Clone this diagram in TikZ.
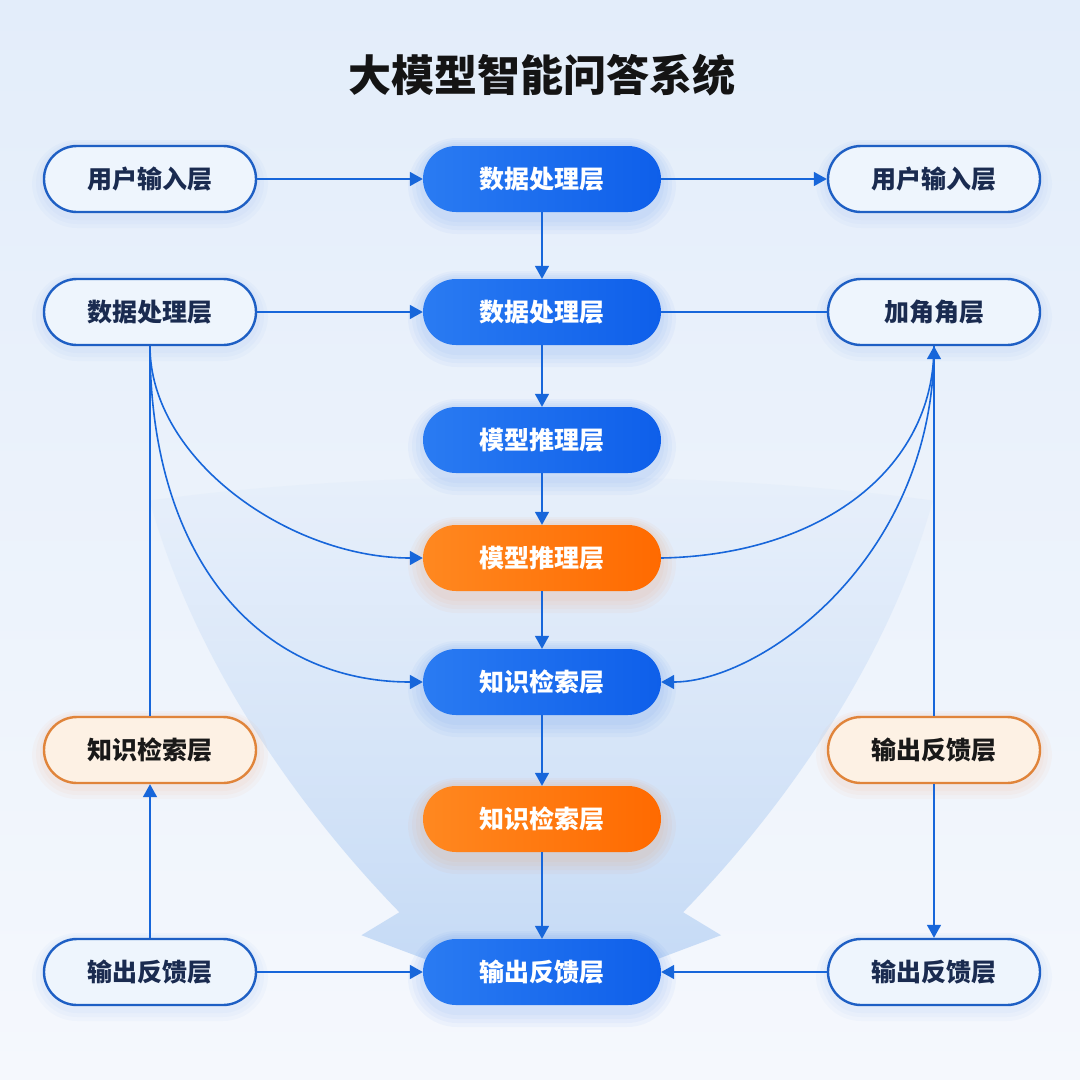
\documentclass[tikz,border=0pt]{standalone}
\usepackage{fontspec}
\setmainfont{Noto Sans CJK SC}
\usetikzlibrary{arrows.meta,fadings}
\definecolor{bgtop}{HTML}{E3EDFA}
\definecolor{bgbot}{HTML}{F5F8FD}
\definecolor{funnel}{HTML}{C6DBF6}
\definecolor{blueA}{HTML}{2A7BF2}
\definecolor{blueB}{HTML}{0E5FEA}
\definecolor{orA}{HTML}{FF8820}
\definecolor{orB}{HTML}{FF6A00}
\definecolor{edgeblue}{HTML}{1E5FC4}
\definecolor{navy}{HTML}{1A2B50}
\definecolor{ofill}{HTML}{EEF5FD}
\definecolor{oredge}{HTML}{E0843A}
\definecolor{orfill}{HTML}{FDF1E4}
\definecolor{linkc}{HTML}{1766DA}
\tikzfading[name=funfade, top color=transparent!92, bottom color=transparent!0]
\begin{document}
\begin{tikzpicture}[x=1pt,y=-1pt,
  base/.style={rounded corners=33pt, minimum height=66pt, inner sep=0pt,
    font=\bfseries\fontsize{25}{25}\selectfont},
  solidblue/.style={base, minimum width=238pt, left color=blueA, right color=blueB, text=white},
  solidorange/.style={base, minimum width=238pt, left color=orA, right color=orB, text=white},
  outblue/.style={base, minimum width=212pt, draw=edgeblue, line width=2.4pt, fill=ofill, text=navy},
  outorange/.style={base, minimum width=212pt, draw=oredge, line width=2.4pt, fill=orfill, text=black!90},
  linkline/.style={draw=linkc, line width=1.6pt},
  arr/.style={linkline, -{Triangle[length=13pt,width=14pt]}},
]
\useasboundingbox (0,0) rectangle (1080,1080);
\shade[top color=bgtop, bottom color=bgbot] (0,0) rectangle (1080,1080);
% funnel backdrop
\fill[funnel, path fading=funfade]
  (150,500) .. controls (380,468) and (700,468) .. (934,500)
  .. controls (884,680) and (764,830) .. (684,912) -- (722,935) -- (650,962)
  -- (434,962) -- (362,935) -- (400,912)
  .. controls (320,830) and (200,680) .. (150,500) -- cycle;

\node[font=\bfseries\fontsize{43}{43}\selectfont, text=black!92] (title) at (542,75) {大模型智能问答系统};

% soft glows under solid nodes
\foreach \yy/\gc in {179/blueB,312/blueB,440/blueB,558/orB,682/blueB,819/orB,972/blueB}{
  \foreach \k in {1,2,3,4}{
    \fill[\gc, opacity=0.035, rounded corners={33pt+\k*4pt}]
      (424-\k*4,\yy-33-\k*2) rectangle (660+\k*4,\yy+39+\k*4);
  }
}
% soft glows under outline nodes
\foreach \xx/\yy in {150/179,150/312,150/972,934/179,934/312,934/972}{
  \foreach \k in {1,2,3}{
    \fill[blueB, opacity=0.025, rounded corners={33pt+\k*4pt}]
      (\xx-106-\k*4,\yy-33-\k*2) rectangle (\xx+106+\k*4,\yy+37+\k*4);
  }
}
\foreach \xx in {150,934}{
  \foreach \k in {1,2,3}{
    \fill[orB, opacity=0.03, rounded corners={33pt+\k*4pt}]
      (\xx-106-\k*4,750-33-\k*2) rectangle (\xx+106+\k*4,750+37+\k*4);
  }
}

% center column
\node[solidblue]   (c1) at (542,179) {数据处理层};
\node[solidblue]   (c2) at (542,312) {数据处理层};
\node[solidblue]   (c3) at (542,440) {模型推理层};
\node[solidorange] (c4) at (542,558) {模型推理层};
\node[solidblue]   (c5) at (542,682) {知识检索层};
\node[solidorange] (c6) at (542,819) {知识检索层};
\node[solidblue]   (c7) at (542,972) {输出反馈层};

% left column
\node[outblue]   (l1) at (150,179) {用户输入层};
\node[outblue]   (l2) at (150,312) {数据处理层};
\node[outorange] (l3) at (150,750) {知识检索层};
\node[outblue]   (l4) at (150,972) {输出反馈层};

% right column
\node[outblue]   (r1) at (934,179) {用户输入层};
\node[outblue]   (r2) at (934,312) {加角角层};
\node[outorange] (r3) at (934,750) {输出反馈层};
\node[outblue]   (r4) at (934,972) {输出反馈层};

% horizontal connectors
\draw[arr] (l1) -- (c1);
\draw[arr] (c1) -- (r1);
\draw[arr] (l2) -- (c2);
\draw[linkline] (c2) -- (r2);
\draw[arr] (l4) -- (c7);
\draw[arr] (r4) -- (c7);

% center vertical chain
\draw[arr] (c1) -- (c2);
\draw[arr] (c2) -- (c3);
\draw[arr] (c3) -- (c4);
\draw[arr] (c4) -- (c5);
\draw[arr] (c5) -- (c6);
\draw[arr] (c6) -- (c7);

% left side
\draw[linkline] (l3.north) -- (l2.south);
\draw[arr] (l4.north) -- (l3.south);
\draw[arr] (l2.south) .. controls (150,460) and (290,558) .. (c4.west);
\draw[arr] (l2.south) .. controls (150,560) and (260,682) .. (c5.west);

% right side
\draw[arr] (r3.north) -- (r2.south);
\draw[arr] (r3.south) -- (r4.north);
\draw[linkline] (c4.east) .. controls (820,555) and (934,470) .. (r2.south);
\draw[arr] (r2.south) .. controls (934,560) and (760,682) .. (c5.east);
\end{tikzpicture}
\end{document}
